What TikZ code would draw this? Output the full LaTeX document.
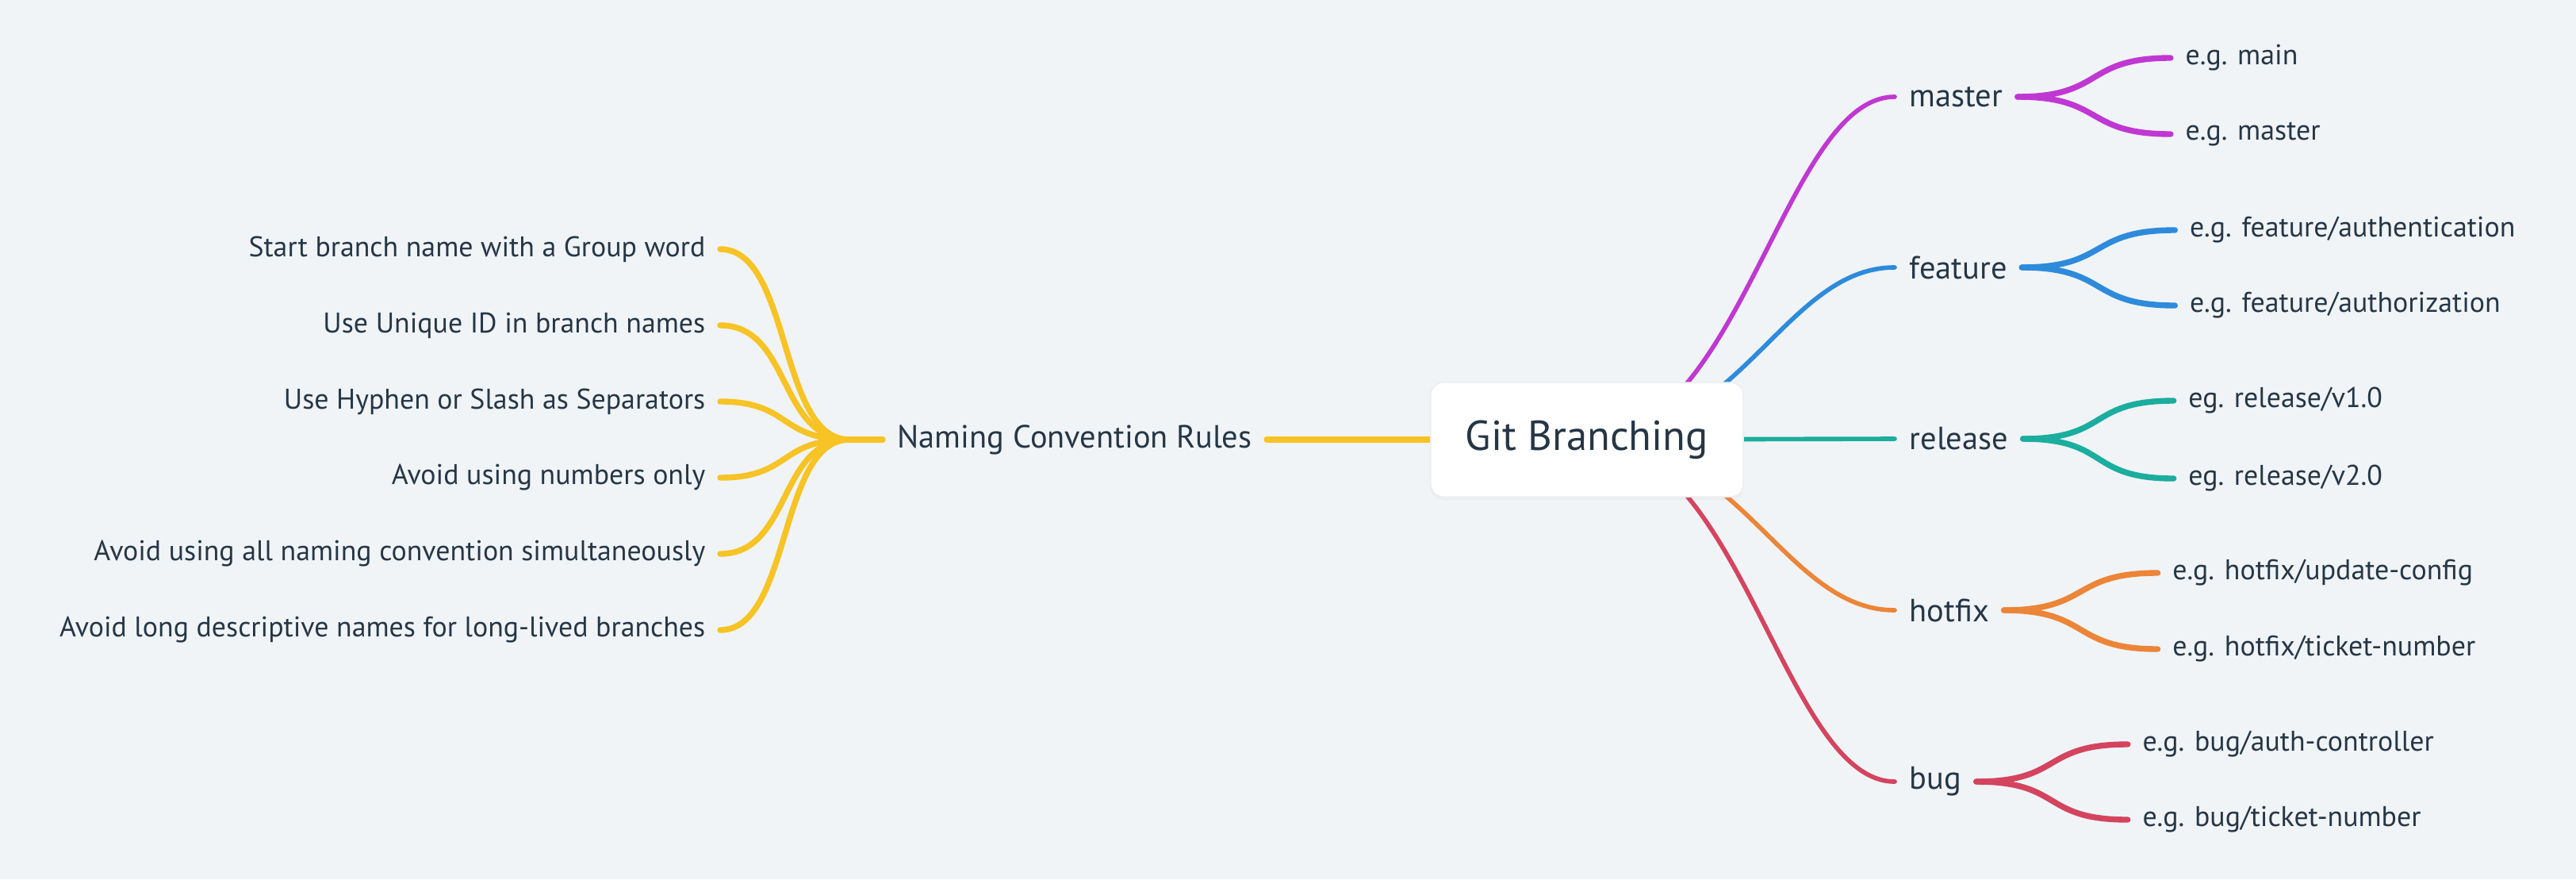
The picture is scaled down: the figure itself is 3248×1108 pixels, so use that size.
\documentclass[tikz,border=0pt]{standalone}
\usepackage{fontspec}
\setmainfont{PT Sans}
\usetikzlibrary{calc,backgrounds,shadows}

\definecolor{bgcol}{HTML}{F0F4F7}
\definecolor{txtcol}{HTML}{263645}
\definecolor{cmaster}{HTML}{C038D2}
\definecolor{cfeature}{HTML}{2E8BDC}
\definecolor{crelease}{HTML}{1BAD9E}
\definecolor{chotfix}{HTML}{EC8538}
\definecolor{cbug}{HTML}{D4445E}
\definecolor{crule}{HTML}{F7C325}

\begin{document}
\begin{tikzpicture}[
  x=0.01cm, y=-0.01cm,
  every node/.style={text=txtcol, inner xsep=5.12pt, inner ysep=2pt},
  root/.style={fill=white, draw=black!7, rounded corners=0.16cm,
    minimum width=3.94cm, minimum height=1.44cm,
    font=\fontsize{15}{18}\selectfont,
    drop shadow={opacity=0.05, shadow xshift=0cm, shadow yshift=-0.04cm}},
  topic/.style={anchor=west, font=\fontsize{11.5}{14}\selectfont},
  leaf/.style={anchor=west, font=\fontsize{10.2}{12}\selectfont},
  rulenode/.style={anchor=east, font=\fontsize{10.2}{12}\selectfont},
  branch/.style={line width=1.6pt, line cap=round},
  twig/.style={line width=2.1pt, line cap=round}
]

% Root node
\node[root] (root) at (2001,554) {Git Branching};

% Branch types
\node[topic] (master)  at (2389,122) {master};
\node[topic] (feature) at (2389,337) {feature};
\node[topic] (release) at (2389,553) {release};
\node[topic] (hotfix)  at (2389,769) {hotfix};
\node[topic] (bug)     at (2389,985) {bug};

% Examples
\node[leaf] (masterA)  at ($(master.east)+(193,-49)$)  {e.g. main};
\node[leaf] (masterB)  at ($(master.east)+(193,47)$)   {e.g. master};
\node[leaf] (featureA) at ($(feature.east)+(193,-47)$) {e.g. feature/authentication};
\node[leaf] (featureB) at ($(feature.east)+(193,48)$)  {e.g. feature/authorization};
\node[leaf] (releaseA) at ($(release.east)+(190,-48)$) {eg. release/v1.0};
\node[leaf] (releaseB) at ($(release.east)+(190,50)$)  {eg. release/v2.0};
\node[leaf] (hotfixA)  at ($(hotfix.east)+(194,-47)$)  {e.g. hotfix/update-config};
\node[leaf] (hotfixB)  at ($(hotfix.east)+(194,49)$)   {e.g. hotfix/ticket-number};
\node[leaf] (bugA)     at ($(bug.east)+(191,-47)$)     {e.g. bug/auth-controller};
\node[leaf] (bugB)     at ($(bug.east)+(191,48)$)      {e.g. bug/ticket-number};

% Naming rules
\node[topic] (naming) at (1113,554) {Naming Convention Rules};
\coordinate (hub) at ($(naming.west)+(-42,0)$);
\node[rulenode] (rule1) at (908,314) {Start branch name with a Group word};
\node[rulenode] (rule2) at (908,410) {Use Unique ID in branch names};
\node[rulenode] (rule3) at (908,506) {Use Hyphen or Slash as Separators};
\node[rulenode] (rule4) at (908,602) {Avoid using numbers only\ };
\node[rulenode] (rule5) at (908,698) {Avoid using all naming convention simultaneously};
\node[rulenode] (rule6) at (908,794) {Avoid long descriptive names for long-lived branches};

\begin{scope}[on background layer]
  \fill[bgcol] (0,0) rectangle (3248,1108);
  % root to branch types
  \foreach \t/\c in {master/cmaster, feature/cfeature, hotfix/chotfix, bug/cbug}
    \draw[branch, \c] (root.center) .. controls +(194,0) and +(-139,0) .. (\t.west);
  \draw[branch, crelease] (root.center) -- (release.west);
  % branch types to examples
  \foreach \t/\c in {master/cmaster, feature/cfeature, release/crelease,
                     hotfix/chotfix, bug/cbug}{
    \draw[twig, \c] (\t.east) .. controls +(110,0) and +(-110,0) .. (\t A.west);
    \draw[twig, \c] (\t.east) .. controls +(110,0) and +(-110,0) .. (\t B.west);
  }
  % rules
  \foreach \i in {1,...,6}
    \draw[twig, crule] (rule\i.east) .. controls +(90,0) and +(-90,0) .. (hub);
  \draw[twig, crule] (hub) -- (naming.west);
  \draw[twig, crule] (naming.east) -- (root.west);
\end{scope}

\end{tikzpicture}
\end{document}
